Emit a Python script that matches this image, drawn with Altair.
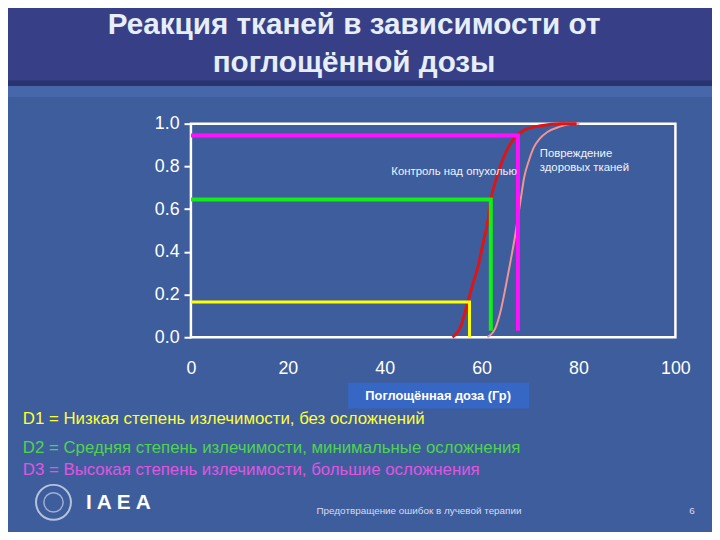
import altair as alt
import pandas as pd

# ---------------- data ----------------
tumor_dose = [54.0, 55.5, 57.2, 58.2, 59.25, 60.3, 61.3, 62.0, 63.0, 64.0, 65.3, 66.7, 68.8, 72.2, 76.3, 79.6]
tumor_prob = [0.0, 0.04, 0.168, 0.25, 0.33, 0.44, 0.546, 0.654, 0.74, 0.81, 0.88, 0.93, 0.97, 0.99, 1.0, 1.0]

normal_dose = [61.2, 62.8, 64.0, 65.0, 66.0, 66.8, 67.4, 68.1, 68.8, 69.8, 70.8, 72.0, 73.5, 76.0, 79.0, 80.2]
normal_prob = [0.0, 0.04, 0.13, 0.24, 0.36, 0.46, 0.546, 0.65, 0.75, 0.83, 0.89, 0.93, 0.96, 0.985, 1.0, 1.0]

d_names = ["D1", "D2", "D3"]
d_dose = [57.5, 61.9, 67.5]
d_level = [0.165, 0.645, 0.945]
d_bottom = [0.0, 0.03, 0.03]
d_colors = ["#ffff00", "#11ee11", "#ff11ff"]

y_ticks = [0.0, 0.2, 0.4, 0.6, 0.8, 1.0]
x_ticks = [0, 20, 40, 60, 80, 100]

title_lines = ["Реакция тканей в зависимости от", "поглощённой дозы"]
x_title = "Поглощённая доза (Гр)"
tumor_label = "Контроль над опухолью"
normal_label = ["Повреждение", "здоровых тканей"]
legend_lines = [
    "D1 = Низкая степень излечимости, без осложнений",
    "D2 = Средняя степень излечимости, минимальные осложнения",
    "D3 = Высокая степень излечимости, большие осложнения",
]
legend_colors = ["#ffff33", "#4fd44f", "#e055e0"]
footer = "Предотвращение ошибок в лучевой терапии"
page_no = "6"

# ---------------- tables ----------------
curves = pd.DataFrame(
    {"dose": tumor_dose + normal_dose,
     "prob": tumor_prob + normal_prob,
     "curve": ["tumor"] * len(tumor_dose) + ["normal"] * len(normal_dose),
     "i": list(range(len(tumor_dose))) + list(range(len(normal_dose)))}
)

step_rows = []
for n, d, lv, b in zip(d_names, d_dose, d_level, d_bottom):
    step_rows += [
        {"name": n, "i": 0, "dose": 0.0, "prob": lv},
        {"name": n, "i": 1, "dose": d, "prob": lv},
        {"name": n, "i": 2, "dose": d, "prob": b},
    ]
steps = pd.DataFrame(step_rows)

one = pd.DataFrame({"k": [0]})

FONT = "Liberation Sans, Arial, sans-serif"
NARROW = "Liberation Sans Narrow, Arial Narrow, Liberation Sans, sans-serif"

xs = alt.Scale(domain=[0, 100], nice=False)
ys = alt.Scale(domain=[0, 1], nice=False)

# ---------------- decorations ----------------
band = alt.Chart(one).mark_rect(color="#373f86").encode(
    x=alt.value(-200), x2=alt.value(540), y=alt.value(-130), y2=alt.value(-44))
band_line = alt.Chart(one).mark_rect(color="#2a336f").encode(
    x=alt.value(-200), x2=alt.value(540), y=alt.value(-44), y2=alt.value(-38))
band_glow = alt.Chart(one).mark_rect(color="#4667a9").encode(
    x=alt.value(-200), x2=alt.value(540), y=alt.value(-38), y2=alt.value(-27))

title1 = alt.Chart(one).mark_text(
    text=title_lines[0], font=FONT, fontSize=30, fontWeight="bold",
    color="#e6eefa", align="center", baseline="alphabetic"
).encode(x=alt.value(165), y=alt.value(-91))
title2 = alt.Chart(one).mark_text(
    text=title_lines[1], font=FONT, fontSize=30, fontWeight="bold",
    color="#e6eefa", align="center", baseline="alphabetic"
).encode(x=alt.value(165), y=alt.value(-52))

xbox = alt.Chart(one).mark_rect(color="#3767c4").encode(
    x=alt.value(159), x2=alt.value(342), y=alt.value(262), y2=alt.value(288))
xtitle = alt.Chart(one).mark_text(
    text=x_title, font=FONT, fontSize=13, fontWeight="bold",
    color="#ffffff", align="center", baseline="middle"
).encode(x=alt.value(250), y=alt.value(275))

leg = []
for k, (txt, col) in enumerate(zip(legend_lines, legend_colors)):
    yb = [304, 333, 355][k]
    leg.append(alt.Chart(one).mark_text(
        text=txt, font=FONT, fontSize=17, color=col,
        align="left", baseline="alphabetic"
    ).encode(x=alt.value(-170), y=alt.value(yb)))

logo_outer = alt.Chart(one).mark_point(
    shape="circle", filled=False, color="#e8eef8", strokeWidth=2, size=1250
).encode(x=alt.value(-139), y=alt.value(383))
logo_inner = alt.Chart(one).mark_point(
    shape="circle", filled=False, color="#c8d4ec", strokeWidth=1.5, size=380
).encode(x=alt.value(-139), y=alt.value(383))
iaea = alt.Chart(one).mark_text(
    text="I A E A", font=FONT, fontSize=21, fontWeight="bold",
    color="#ffffff", align="left", baseline="alphabetic"
).encode(x=alt.value(-106), y=alt.value(390))
foot = alt.Chart(one).mark_text(
    text=footer, font=FONT, fontSize=10, color="#d4dcf0",
    align="left", baseline="alphabetic"
).encode(x=alt.value(127), y=alt.value(395))
pnum = alt.Chart(one).mark_text(
    text=page_no, font=FONT, fontSize=10, color="#d4dcf0",
    align="left", baseline="alphabetic"
).encode(x=alt.value(504), y=alt.value(395))

# ---------------- data marks ----------------
axis_x = alt.Axis(values=x_ticks, title=None, labelFont=NARROW, labelFontSize=18,
                  labelColor="#ffffff", ticks=False, domain=False, grid=False,
                  labelPadding=23, labelFlush=False)
axis_y = alt.Axis(values=y_ticks, title=None, format=".1f", labelFont=NARROW,
                  labelFontSize=18, labelColor="#ffffff", tickColor="#ffffff",
                  tickSize=7, tickWidth=2, labelPadding=5, domain=False, grid=False)

normal_line = alt.Chart(curves).transform_filter(alt.datum.curve == "normal").mark_line(
    color="#f29494", strokeWidth=2, interpolate="monotone"
).encode(x=alt.X("dose:Q", scale=xs, axis=axis_x),
         y=alt.Y("prob:Q", scale=ys, axis=axis_y),
         order="i:Q")
tumor_line = alt.Chart(curves).transform_filter(alt.datum.curve == "tumor").mark_line(
    color="#dd1515", strokeWidth=3, interpolate="monotone"
).encode(x=alt.X("dose:Q", scale=xs), y=alt.Y("prob:Q", scale=ys), order="i:Q")

step_layers = []
for n, c, w in zip(d_names, d_colors, [3, 4, 4]):
    step_layers.append(
        alt.Chart(steps).transform_filter(alt.datum.name == n).mark_line(
            color=c, strokeWidth=w, strokeCap="butt"
        ).encode(x=alt.X("dose:Q", scale=xs), y=alt.Y("prob:Q", scale=ys), order="i:Q")
    )

ann = pd.DataFrame({"dose": [67.3, 72.0, 72.0], "prob": [0.775, 0.857, 0.79],
                    "label": [tumor_label] + normal_label,
                    "side": ["right", "left", "left"]})
ann_tumor = alt.Chart(ann).transform_filter(alt.datum.side == "right").mark_text(
    font=FONT, fontSize=11.5, color="#f2f4fa", align="right", baseline="middle"
).encode(x=alt.X("dose:Q", scale=xs), y=alt.Y("prob:Q", scale=ys), text="label:N")
ann_normal = alt.Chart(ann).transform_filter(alt.datum.side == "left").mark_text(
    font=FONT, fontSize=11.5, color="#f2f4fa", align="left", baseline="middle"
).encode(x=alt.X("dose:Q", scale=xs), y=alt.Y("prob:Q", scale=ys), text="label:N")

chart = alt.layer(
    band, band_line, band_glow, title1, title2,
    normal_line, tumor_line, *step_layers, ann_tumor, ann_normal,
    xbox, xtitle, *leg, logo_outer, logo_inner, iaea, foot, pnum
).properties(
    width=490, height=216,
    autosize=alt.AutoSizeParams(type="none"),
    padding={"left": 185, "top": 114, "right": 37, "bottom": 194},
    background="#3e5d9d",
).configure_view(stroke="#ffffff", strokeWidth=2.5)

chart.save("out.html", embed_options={"renderer": "svg", "actions": False})
